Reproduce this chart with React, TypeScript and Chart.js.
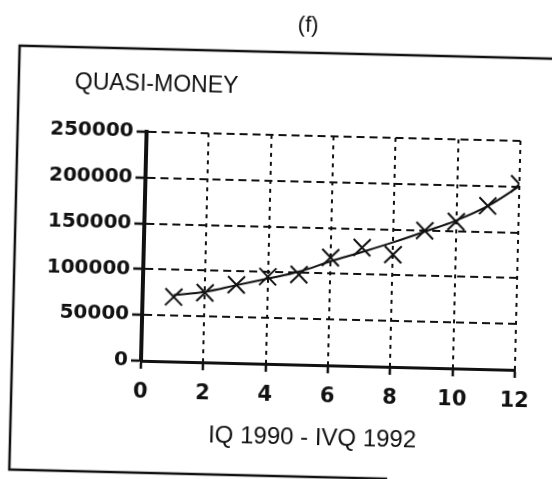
import { useEffect, useRef } from "react";
import { Chart, registerables } from "chart.js";

Chart.register(...registerables);

// ---- data ----
const quarters = [1, 2, 3, 4, 5, 6, 7, 8, 9, 10, 11, 12];
const observed = [70500, 75800, 85400, 95100, 98200, 117600, 129300, 122600, 149600, 160200, 178300, 203000];
const trend = [72500, 77000, 85000, 93000, 101500, 113500, 124500, 136000, 148500, 161500, 178000, 200500];
const yTickValues = [0, 50000, 100000, 150000, 200000, 250000];
const xTickValues = [0, 2, 4, 6, 8, 10, 12];

const panelTitle = "(f)";
const seriesName = "QUASI-MONEY";
const xAxisTitle = "IQ 1990 - IVQ 1992";

const framePlugin = {
  id: "frame",
  afterDraw(chart: any) {
    const ctx = chart.ctx as CanvasRenderingContext2D;
    ctx.save();
    ctx.strokeStyle = "#111";
    ctx.lineWidth = 2.5;
    ctx.beginPath();
    ctx.moveTo(552, 52);
    ctx.lineTo(15, 52);
    ctx.lineTo(15, 476);
    ctx.lineTo(393, 476);
    ctx.stroke();

    ctx.fillStyle = "#111";
    ctx.textBaseline = "middle";
    ctx.textAlign = "center";
    ctx.font = "22px 'Liberation Sans'";
    ctx.fillText(panelTitle, 303, 25);

    ctx.textAlign = "left";
    ctx.font = "23px 'Liberation Sans'";
    ctx.fillText(seriesName, 71, 88);

    ctx.textAlign = "center";
    ctx.font = "24px 'Liberation Sans'";
    ctx.fillText(xAxisTitle, 317, 437);
    ctx.restore();
  },
};

export default function App() {
  const canvasRef = useRef<HTMLCanvasElement | null>(null);

  useEffect(() => {
    document.body.style.margin = "0";
    const canvas = canvasRef.current;
    if (!canvas) return;
    const chart = new Chart(canvas, {
      type: "line",
      data: {
        datasets: [
          {
            label: "trend",
            data: quarters.map((q, i) => ({ x: q, y: trend[i] })),
            borderColor: "#111",
            borderWidth: 2,
            pointRadius: 0,
            tension: 0.4,
            fill: false,
          },
          {
            label: seriesName,
            data: quarters.map((q, i) => ({ x: q, y: observed[i] })),
            showLine: false,
            borderColor: "#111",
            backgroundColor: "#111",
            pointStyle: "crossRot",
            pointRadius: 12,
            pointBorderWidth: 2,
          },
        ],
      },
      options: {
        responsive: false,
        animation: false,
        layout: { padding: { left: 20, top: 135, right: 34, bottom: 40 } },
        plugins: {
          legend: { display: false },
          title: { display: false },
          tooltip: { enabled: false },
        },
        scales: {
          x: {
            type: "linear",
            min: 0,
            max: 12,
            afterBuildTicks: (scale: any) => {
              scale.ticks = xTickValues.map((v) => ({ value: v }));
            },
            afterFit: (scale: any) => {
              scale.height = 75;
            },
            ticks: {
              color: "#111",
              padding: 11,
              font: { family: "'DejaVu Sans'", size: 21, weight: "bold" },
              callback: (v: any) => String(v),
            },
            grid: {
              color: "#111",
              lineWidth: 2,
              drawTicks: true,
              tickLength: 8,
              tickColor: "#111",
              tickWidth: 2.5,
            },
            border: { display: true, color: "#111", width: 3, dash: [4, 5] },
          },
          y: {
            type: "linear",
            min: 0,
            max: 250000,
            afterBuildTicks: (scale: any) => {
              scale.ticks = yTickValues.map((v) => ({ value: v }));
            },
            afterFit: (scale: any) => {
              scale.width = 124;
            },
            ticks: {
              color: "#111",
              padding: 3,
              font: { family: "'DejaVu Sans'", size: 20, weight: "bold" },
              callback: (v: any) => String(v),
            },
            grid: {
              color: "#111",
              lineWidth: 2,
              drawTicks: true,
              tickLength: 10,
              tickColor: "#111",
              tickWidth: 2.5,
            },
            border: { display: true, color: "#111", width: 4, dash: [8, 5] },
          },
        },
      },
      plugins: [framePlugin],
    });
    return () => chart.destroy();
  }, []);

  return (
    <div style={{ width: 552, height: 479, overflow: "hidden", position: "relative", background: "#fff" }}>
      <canvas
        ref={canvasRef}
        width={552}
        height={479}
        style={{ display: "block", width: 552, height: 479, transform: "rotate(1.4deg)" }}
      />
    </div>
  );
}
